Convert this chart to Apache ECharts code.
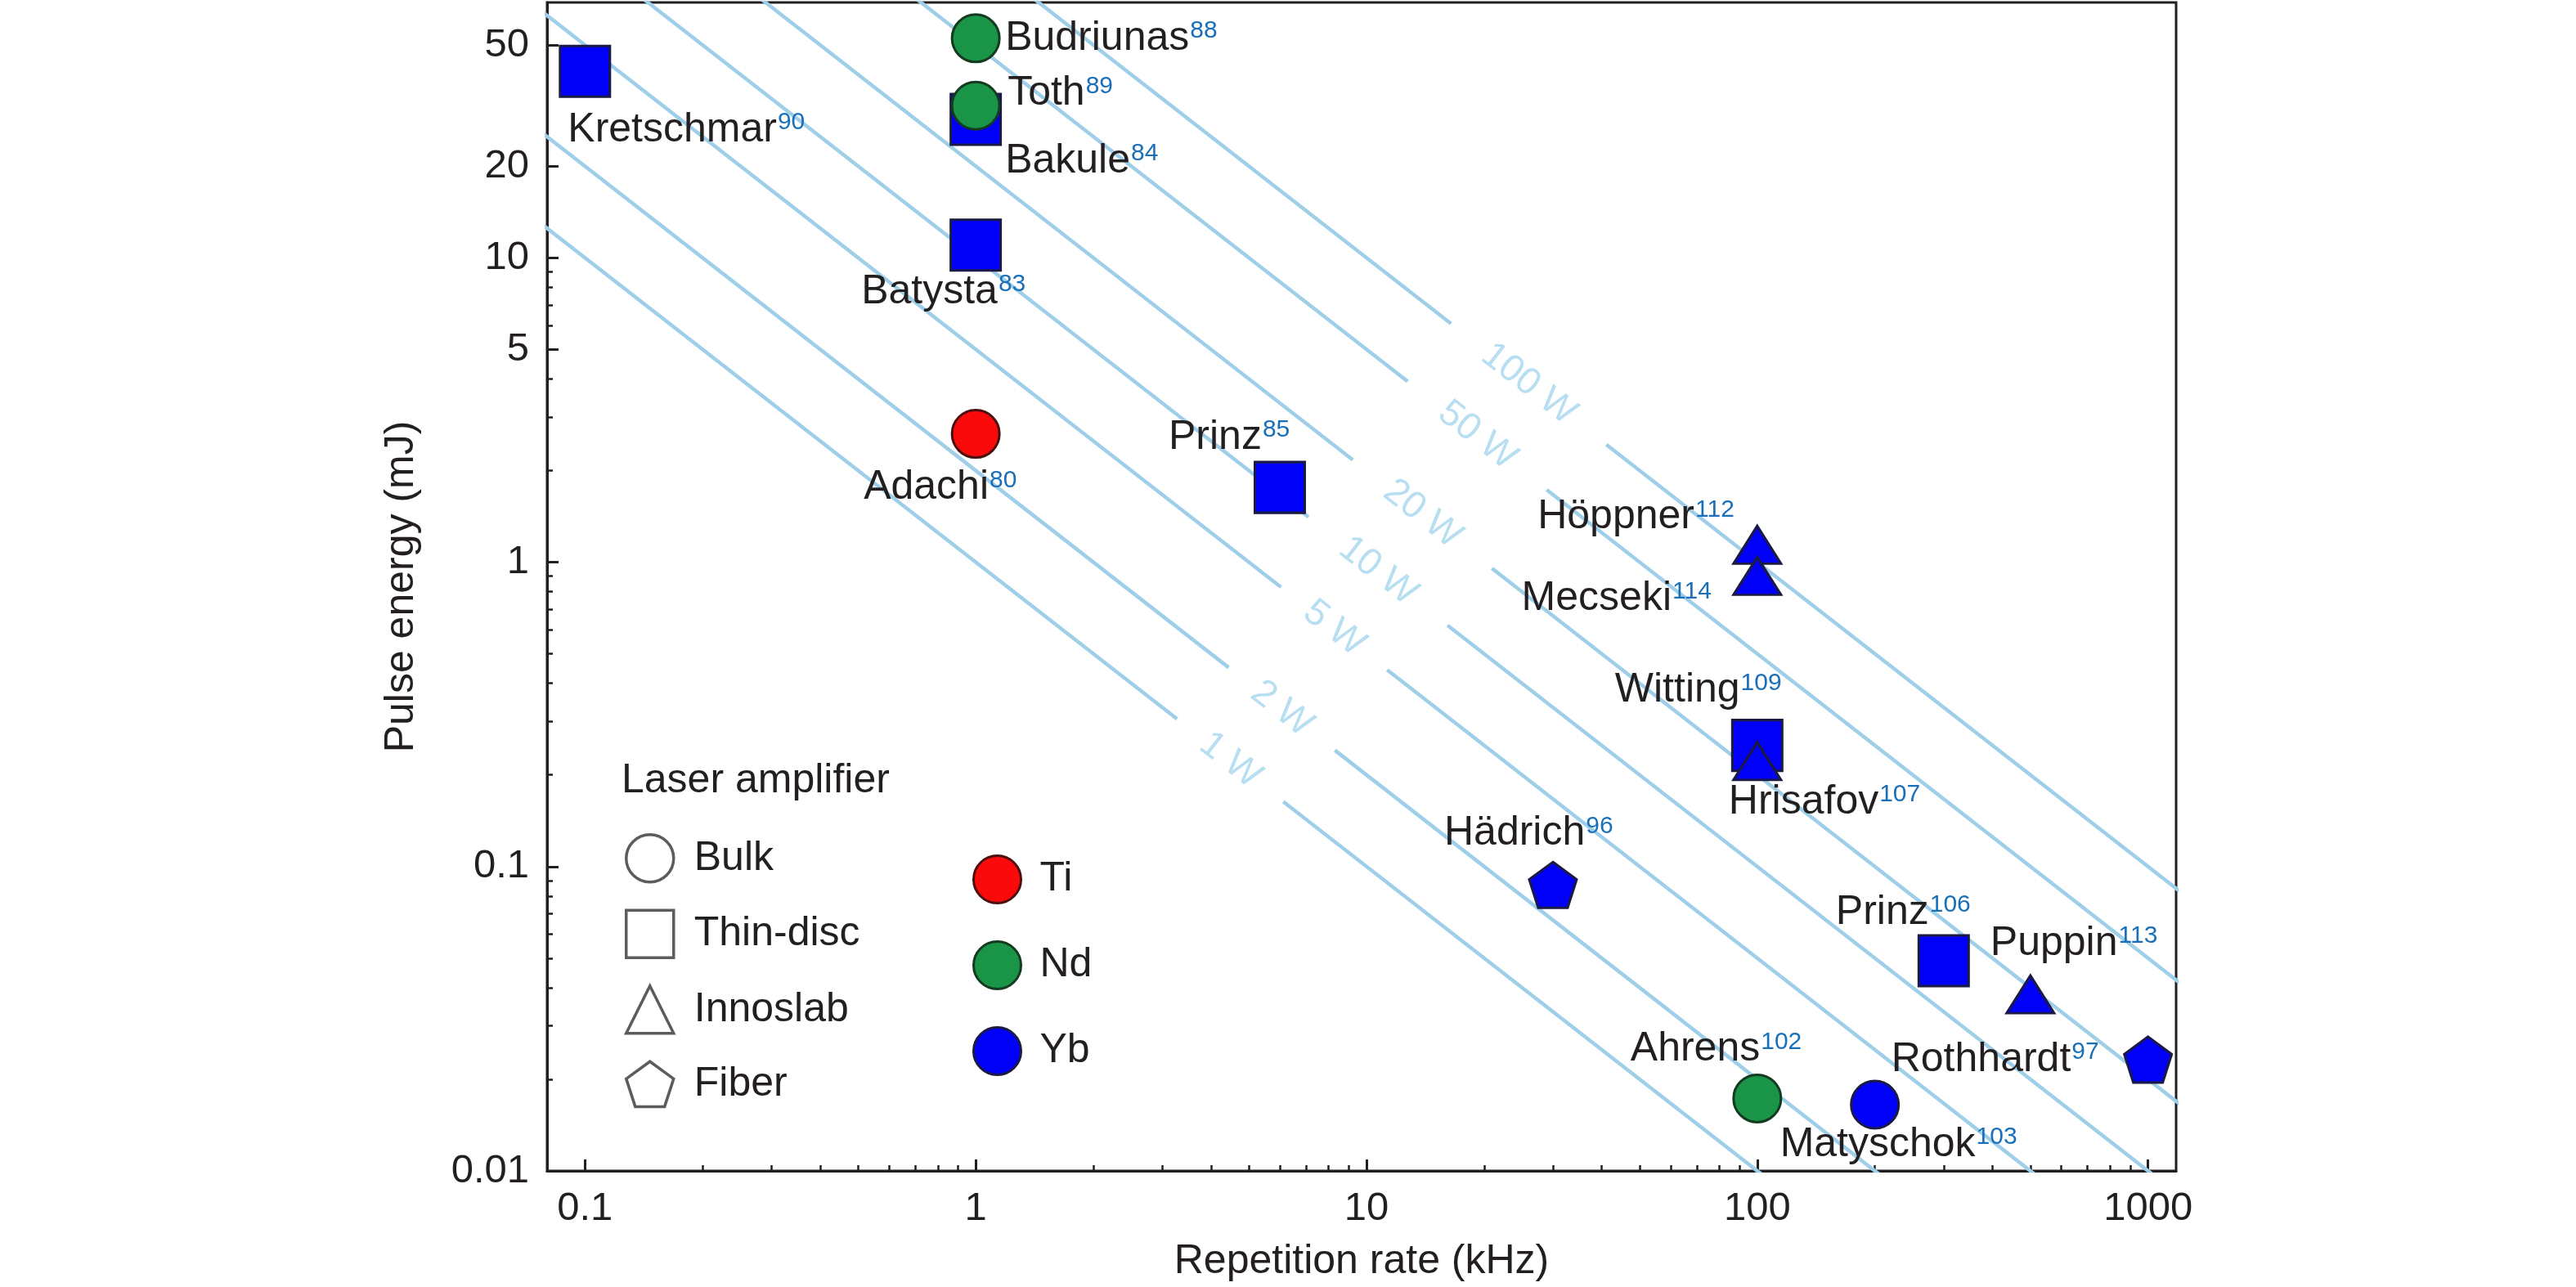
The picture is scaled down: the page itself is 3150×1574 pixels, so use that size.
<!DOCTYPE html>
<html><head><meta charset="utf-8">
<script src="https://cdn.jsdelivr.net/npm/echarts@6/dist/echarts.min.js"></script>
<style>html,body{margin:0;padding:0;background:#fff}#c{width:3150px;height:1574px}</style>
</head><body><div id="c"></div>
<script>
// ---------------- data ----------------
const amplifierTypes = ['Bulk', 'Thin-disc', 'Innoslab', 'Fiber'];
const materials = ['Ti', 'Nd', 'Yb'];

const bulkNames  = ['Budriunas', 'Toth', 'Adachi', 'Ahrens', 'Matyschok'];
const bulkRefs   = ['88', '89', '80', '102', '103'];
const bulkRate   = [1, 1, 1, 100, 200];          // kHz
const bulkEnergy = [52.6, 31.6, 2.64, 0.0173, 0.0165]; // mJ
const bulkGain   = ['Nd', 'Nd', 'Ti', 'Nd', 'Yb'];

const discNames  = ['Kretschmar', 'Bakule', 'Batysta', 'Prinz', 'Witting', 'Prinz'];
const discRefs   = ['90', '84', '83', '85', '109', '106'];
const discRate   = [0.1, 1, 1, 6, 100, 300];
const discEnergy = [41, 28.5, 11, 1.76, 0.25, 0.049];
const discGain   = ['Yb', 'Yb', 'Yb', 'Yb', 'Yb', 'Yb'];

const slabNames  = ['Höppner', 'Mecseki', 'Hrisafov', 'Puppin'];
const slabRefs   = ['112', '114', '107', '113'];
const slabRate   = [100, 100, 100, 500];
const slabEnergy = [1.14, 0.9, 0.222, 0.038];
const slabGain   = ['Yb', 'Yb', 'Yb', 'Yb'];

const fiberNames  = ['Hädrich', 'Rothhardt'];
const fiberRefs   = ['96', '97'];
const fiberRate   = [30, 1000];
const fiberEnergy = [0.087, 0.0232];
const fiberGain   = ['Yb', 'Yb'];

const powerLevels    = [1, 2, 5, 10, 20, 50, 100];          // W (iso-power lines)
const powerLabelRate = [4.48, 6.07, 8.26, 10.7, 13.9, 19.2, 26]; // kHz where each label sits

const xTickValues = [0.1, 1, 10, 100, 1000];
const xTickLabels = ['0.1', '1', '10', '100', '1000'];
const yTickValues = [0.01, 0.1, 1, 5, 10, 20, 50];
const yTickLabels = ['0.01', '0.1', '1', '5', '10', '20', '50'];

// ---------------- layout / style ----------------
const X_MIN = 0.08, X_MAX = 1180, Y_MIN = 0.01, Y_MAX = 69;
const GRID = { left: 669, right: 489, top: 3, bottom: 142 };
const FONT = "'Liberation Sans', Arial, Helvetica, sans-serif";
const INK = '#231f20';
const LINE_BLUE = '#9fcfe8';
const TEXT_BLUE = '#a6d6ef';
const REF_BLUE = '#1a70b8';
const matStyle = {
  Ti: { color: '#fa0a0a', borderColor: '#4a1010' },
  Nd: { color: '#1a9447', borderColor: '#143a20' },
  Yb: { color: '#0000f8', borderColor: '#1a1a45' }
};
const PENTAGON = 'path://M0,-1L0.951,-0.309L0.588,0.809L-0.588,0.809L-0.951,-0.309Z';
// per-point label placement: [align, dx, dy] relative to marker centre
const labelPlace = {
  bulk:  [['left', 36, 0], ['left', 39, -15], ['left', -137, 66], ['left', -155, -60], ['left', -116, 49]],
  disc:  [['left', -21, 72], ['left', 36, 51], ['left', -140, 57], ['left', -136, -61], ['left', -174, -67], ['left', -132, -59]],
  slab:  [['right', -28, -34], ['right', -56, 28], ['left', -35, 50], ['left', -49, -62]],
  fiber: [['left', -133, -63], ['right', -60, 0]]
};
const powerGapPx = [65, 65, 65, 85, 85, 85, 95];

// ---------------- build ----------------
const L10 = Math.log10;
const plotW = 3150 - GRID.left - GRID.right;
const decadePx = plotW / (L10(X_MAX) - L10(X_MIN));
const angle = Math.atan(((1574 - GRID.top - GRID.bottom) / (L10(Y_MAX) - L10(Y_MIN))) / decadePx) * 180 / Math.PI;

function points(names, refs, rate, energy, gain, place) {
  return names.map((n, i) => ({
    name: n, ref: refs[i], value: [rate[i], energy[i]],
    itemStyle: { color: matStyle[gain[i]].color, borderColor: matStyle[gain[i]].borderColor, borderWidth: 3, opacity: 1 },
    label: { align: place[i][0], offset: [place[i][1], place[i][2]] }
  }));
}
const pointLabel = {
  show: true, position: 'inside', verticalAlign: 'middle', color: INK, textBorderWidth: 0, opacity: 1,
  formatter: p => '{n|' + p.name + '}{s|' + p.data.ref + '}',
  rich: {
    n: { fontSize: 50, fontFamily: FONT, color: INK, lineHeight: 58 },
    s: { fontSize: 30, fontFamily: FONT, color: REF_BLUE, verticalAlign: 'top', lineHeight: 30, padding: [5, 0, 0, 1] }
  }
};

function labelFor(v, vals, labels) {
  for (let i = 0; i < vals.length; i++) if (Math.abs(L10(vals[i]) - v) < 1e-6) return labels[i];
  return '';
}
function minorTicks(lo, hi, skip) {
  const out = [];
  for (let d = lo; d < hi; d++) for (let m = 2; m <= 9; m++) {
    const v = m * Math.pow(10, d);
    if (!skip.some(s => Math.abs(s - v) < 1e-9)) out.push(L10(v));
  }
  return out;
}
const xMinor = minorTicks(-1, 3, []);
const yMinor = minorTicks(-2, 1, [5]);

const series = [];
// iso-power lines, each broken where its label sits
powerLevels.forEach((P, k) => {
  const fl = powerLabelRate[k];
  const g = powerGapPx[k] / decadePx;
  const fa = fl * Math.pow(10, -g), fb = fl * Math.pow(10, g);
  const segs = [[0.02, fa], [fb, 5000]];
  segs.forEach(s => series.push({
    type: 'line', silent: true, clip: true, symbol: 'none', z: 1,
    xAxisIndex: 0, yAxisIndex: 0,
    lineStyle: { color: LINE_BLUE, width: 4.5 },
    data: [[s[0], P / s[0]], [s[1], P / s[1]]]
  }));
});
series.push({
  type: 'scatter', silent: true, xAxisIndex: 0, yAxisIndex: 0, z: 2,
  symbolSize: 1, itemStyle: { color: 'rgba(0,0,0,0)' },
  label: { show: true, position: 'inside', formatter: '{b}', rotate: -angle, fontSize: 46, fontFamily: FONT, color: TEXT_BLUE },
  data: powerLevels.map((P, k) => ({ name: P + ' W', value: [powerLabelRate[k], P / powerLabelRate[k]] }))
});
const markerCommon = { type: 'scatter', xAxisIndex: 0, yAxisIndex: 0, label: pointLabel, z: 5,
  itemStyle: { opacity: 1 }, emphasis: { disabled: true } };
series.push(Object.assign({}, markerCommon, { name: 'Thin-disc', symbol: 'rect', symbolSize: [61, 62],
  data: points(discNames, discRefs, discRate, discEnergy, discGain, labelPlace.disc) }));
series.push(Object.assign({}, markerCommon, { name: 'Bulk', symbol: 'circle', symbolSize: 58,
  data: points(bulkNames, bulkRefs, bulkRate, bulkEnergy, bulkGain, labelPlace.bulk) }));
series.push(Object.assign({}, markerCommon, { name: 'Innoslab', symbol: 'triangle', symbolSize: [58, 46],
  data: points(slabNames, slabRefs, slabRate, slabEnergy, slabGain, labelPlace.slab) }));
series.push(Object.assign({}, markerCommon, { name: 'Fiber', symbol: PENTAGON, symbolSize: [58, 56],
  data: points(fiberNames, fiberRefs, fiberRate, fiberEnergy, fiberGain, labelPlace.fiber) }));
materials.forEach(m => series.push({ type: 'scatter', name: m, data: [], symbol: 'circle',
  itemStyle: { color: matStyle[m].color, borderColor: matStyle[m].borderColor, borderWidth: 3, opacity: 1 } }));

const hollow = { color: '#ffffff', borderColor: '#5c5c5c', borderWidth: 3.5, opacity: 1 };
const shapeIcons = { 'Bulk': 'circle', 'Thin-disc': 'rect', 'Innoslab': 'triangle', 'Fiber': PENTAGON };

function overlayAxis(dim, lo, hi, major, minor, vals, labels, extra) {
  return [
    Object.assign({
      type: 'value', min: lo, max: hi, position: dim === 'x' ? 'bottom' : 'left',
      axisLine: { show: true, onZero: false, lineStyle: { color: INK, width: 3 } },
      axisTick: { show: true, inside: true, length: 14, lineStyle: { color: INK, width: 3 }, customValues: major },
      axisLabel: { show: true, customValues: major, formatter: v => labelFor(v, vals, labels),
        fontSize: 49, fontFamily: FONT, color: INK, margin: 22 },
      splitLine: { show: false }
    }, extra),
    {
      type: 'value', min: lo, max: hi, position: dim === 'x' ? 'bottom' : 'left',
      axisLine: { show: false, onZero: false },
      axisTick: { show: true, inside: true, length: 7, lineStyle: { color: INK, width: 2.5 }, customValues: minor },
      axisLabel: { show: false }, splitLine: { show: false }
    }
  ];
}

const option = {
  animation: false,
  backgroundColor: '#ffffff',
  grid: Object.assign({ show: true, borderColor: INK, borderWidth: 3, containLabel: false, outerBoundsMode: 'none' }, GRID),
  title: { text: 'Laser amplifier', left: 760, top: 930, padding: 0,
    textStyle: { fontSize: 50, fontWeight: 'normal', color: INK, fontFamily: FONT } },
  legend: [
    { orient: 'vertical', left: 764, top: 1019, padding: 0, itemWidth: 58, itemHeight: 58, itemGap: 31,
      selectedMode: false, textStyle: { fontSize: 50, color: INK, fontFamily: FONT, padding: [0, 0, 0, 20] },
      data: amplifierTypes.map(t => ({ name: t, icon: shapeIcons[t], itemStyle: hollow })) },
    { orient: 'vertical', left: 1189, top: 1045, padding: 0, itemWidth: 58, itemHeight: 58, itemGap: 44,
      selectedMode: false, textStyle: { fontSize: 50, color: INK, fontFamily: FONT, padding: [0, 0, 0, 18] },
      data: materials.map(m => ({ name: m, icon: 'circle', itemStyle: { color: matStyle[m].color, borderColor: matStyle[m].borderColor, borderWidth: 3, opacity: 1 } })) }
  ],
  xAxis: [{ type: 'log', logBase: 10, min: X_MIN, max: X_MAX, show: false }].concat(
    overlayAxis('x', L10(X_MIN), L10(X_MAX), xTickValues.map(L10), xMinor, xTickValues, xTickLabels,
      { name: 'Repetition rate (kHz)', nameLocation: 'middle', nameGap: 86,
        nameTextStyle: { fontSize: 50, color: INK, fontFamily: FONT } })),
  yAxis: [{ type: 'log', logBase: 10, min: Y_MIN, max: Y_MAX, show: false }].concat(
    overlayAxis('y', L10(Y_MIN), L10(Y_MAX), yTickValues.map(L10), yMinor, yTickValues, yTickLabels,
      { name: 'Pulse energy (mJ)', nameLocation: 'middle', nameGap: 153,
        nameTextStyle: { fontSize: 50, color: INK, fontFamily: FONT } })),
  series: series
};
const chart = echarts.init(document.getElementById('c'), null, { renderer: 'canvas' });
chart.setOption(option);
</script></body></html>
